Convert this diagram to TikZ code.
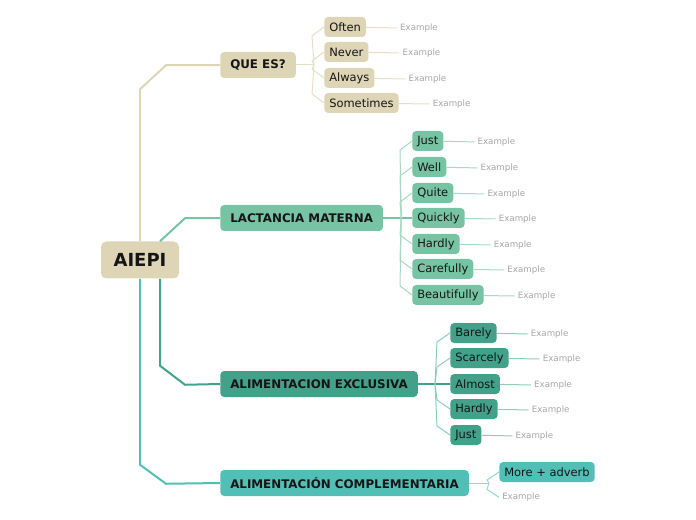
\documentclass[tikz,border=0pt]{standalone}
\usepackage{fontspec}
\setmainfont{DejaVu Sans}
\usetikzlibrary{positioning,calc}
\definecolor{sand}{HTML}{DDD5B5}
\definecolor{sandln}{HTML}{E6DFC8}
\definecolor{mint}{HTML}{76C4A4}
\definecolor{mintln}{HTML}{A6DAC4}
\definecolor{jade}{HTML}{43A18A}
\definecolor{jadeln}{HTML}{8ECDBE}
\definecolor{lagoon}{HTML}{52BFB7}
\definecolor{lagoonln}{HTML}{97D9D3}
\definecolor{exgray}{HTML}{A5A5A5}
\definecolor{ink}{HTML}{151515}

\begin{document}
\begin{tikzpicture}[
  x=0.75pt, y=-0.75pt,
  root/.style   = {fill=sand, rounded corners=4pt, text=ink,
                   minimum width=58.5pt, minimum height=27.75pt,
                   font=\fontsize{13.5}{15}\selectfont\bfseries},
  topic/.style  = {anchor=west, rounded corners=3pt, text=ink,
                   minimum height=19.5pt, inner xsep=7.5pt,
                   font=\fontsize{8.9}{10}\selectfont\bfseries},
  leaf/.style   = {anchor=west, rounded corners=3pt, text=ink,
                   minimum height=15pt, inner xsep=3.75pt,
                   font=\fontsize{8.6}{10}\selectfont},
  ex/.style     = {text=exgray, inner xsep=2.25pt, yshift=-1pt,
                   font=\fontsize{6.5}{8}\selectfont},
  trunk/.style  = {line width=1.5pt},
  twig/.style   = {line width=0.75pt},
]
\useasboundingbox (0,0) rectangle (696,520);

% centre and main topics
\node[root] (aiepi) at (140,260) {AIEPI};
\node[topic, fill=sand]   (quees) at (220,65)  {QUE ES?};
\node[topic, fill=mint]   (lact)  at (220,218) {LACTANCIA MATERNA};
\node[topic, fill=jade]   (excl)  at (220,384) {ALIMENTACION EXCLUSIVA};
\node[topic, fill=lagoon] (comp)  at (220,483) {ALIMENTACIÓN COMPLEMENTARIA};

\draw[trunk, sand] (aiepi.north) -- ++(0,-152) -- ++(26,-24) -- (quees.west);
\draw[trunk, mint] ([xshift=15pt]aiepi.north) -- ++(25,-23) -- (lact.west);
\draw[trunk, jade] ([xshift=15pt]aiepi.south) -- ++(0,87) -- ++(25,19) -- (excl.west);
\draw[trunk, lagoon] (aiepi.south) -- ++(0,186) -- ++(26,19) -- (comp.west);

% QUE ES?
\node[leaf, fill=sand] (qOften)     at (324,27)  {Often};
\node[leaf, fill=sand] (qNever)     at (324,52)  {Never};
\node[leaf, fill=sand] (qAlways)    at (324,78)  {Always};
\node[leaf, fill=sand] (qSometimes) at (324,103) {Sometimes};
\node[ex, right=23pt of qOften]     (qOftenEx)     {Example};
\node[ex, right=23pt of qNever]     (qNeverEx)     {Example};
\node[ex, right=23pt of qAlways]    (qAlwaysEx)    {Example};
\node[ex, right=23pt of qSometimes] (qSometimesEx) {Example};
\coordinate (qb) at ($(quees.east)+(18,0)$);
\begin{scope}[twig, sandln]
  \draw (quees) -- (qb);
  \draw (qb) -- ($(qOften.west)+(-12,9)$) -- (qOften.west);
  \draw (qb) -- ($(qNever.west)+(-12,9)$) -- (qNever.west);
  \draw (qb) -- ($(qAlways.west)+(-12,-9)$) -- (qAlways.west);
  \draw (qb) -- ($(qSometimes.west)+(-12,-9)$) -- (qSometimes.west);
  \draw (qOften) -- (qOftenEx);
  \draw (qNever) -- (qNeverEx);
  \draw (qAlways) -- (qAlwaysEx);
  \draw (qSometimes) -- (qSometimesEx);
\end{scope}

% LACTANCIA MATERNA
\node[leaf, fill=mint] (lJust)        at (412,141) {Just};
\node[leaf, fill=mint] (lWell)        at (412,167) {Well};
\node[leaf, fill=mint] (lQuite)       at (412,193) {Quite};
\node[leaf, fill=mint] (lQuickly)     at (412,218) {Quickly};
\node[leaf, fill=mint] (lHardly)      at (412,244) {Hardly};
\node[leaf, fill=mint] (lCarefully)   at (412,269) {Carefully};
\node[leaf, fill=mint] (lBeautifully) at (412,295) {Beautifully};
\node[ex, right=23pt of lJust]        (lJustEx)        {Example};
\node[ex, right=23pt of lWell]        (lWellEx)        {Example};
\node[ex, right=23pt of lQuite]       (lQuiteEx)       {Example};
\node[ex, right=23pt of lQuickly]     (lQuicklyEx)     {Example};
\node[ex, right=23pt of lHardly]      (lHardlyEx)      {Example};
\node[ex, right=23pt of lCarefully]   (lCarefullyEx)   {Example};
\node[ex, right=23pt of lBeautifully] (lBeautifullyEx) {Example};
\coordinate (lb) at ($(lact.east)+(18,0)$);
\begin{scope}[twig, mintln]
  \draw[mint, line width=1pt] (lact) -- (lQuickly);
  \draw (lb) -- ($(lJust.west)+(-12,9)$) -- (lJust.west);
  \draw (lb) -- ($(lWell.west)+(-12,9)$) -- (lWell.west);
  \draw (lb) -- ($(lQuite.west)+(-12,9)$) -- (lQuite.west);
  \draw (lb) -- ($(lHardly.west)+(-12,-9)$) -- (lHardly.west);
  \draw (lb) -- ($(lCarefully.west)+(-12,-9)$) -- (lCarefully.west);
  \draw (lb) -- ($(lBeautifully.west)+(-12,-9)$) -- (lBeautifully.west);
  \draw (lJust) -- (lJustEx);
  \draw (lWell) -- (lWellEx);
  \draw (lQuite) -- (lQuiteEx);
  \draw (lQuickly) -- (lQuicklyEx);
  \draw (lHardly) -- (lHardlyEx);
  \draw (lCarefully) -- (lCarefullyEx);
  \draw (lBeautifully) -- (lBeautifullyEx);
\end{scope}

% ALIMENTACION EXCLUSIVA
\node[leaf, fill=jade] (eBarely)   at (450,333) {Barely};
\node[leaf, fill=jade] (eScarcely) at (450,358) {Scarcely};
\node[leaf, fill=jade] (eAlmost)   at (450,384) {Almost};
\node[leaf, fill=jade] (eHardly)   at (450,409) {Hardly};
\node[leaf, fill=jade] (eJust)     at (450,435) {Just};
\node[ex, right=23pt of eBarely]   (eBarelyEx)   {Example};
\node[ex, right=23pt of eScarcely] (eScarcelyEx) {Example};
\node[ex, right=23pt of eAlmost]   (eAlmostEx)   {Example};
\node[ex, right=23pt of eHardly]   (eHardlyEx)   {Example};
\node[ex, right=23pt of eJust]     (eJustEx)     {Example};
\coordinate (eb) at ($(excl.east)+(17,0)$);
\begin{scope}[twig, jadeln]
  \draw[jade, line width=1pt] (excl) -- (eAlmost);
  \draw (eb) -- ($(eBarely.west)+(-13,9)$) -- (eBarely.west);
  \draw (eb) -- ($(eScarcely.west)+(-13,9)$) -- (eScarcely.west);
  \draw (eb) -- ($(eHardly.west)+(-13,-9)$) -- (eHardly.west);
  \draw (eb) -- ($(eJust.west)+(-13,-9)$) -- (eJust.west);
  \draw (eBarely) -- (eBarelyEx);
  \draw (eScarcely) -- (eScarcelyEx);
  \draw (eAlmost) -- (eAlmostEx);
  \draw (eHardly) -- (eHardlyEx);
  \draw (eJust) -- (eJustEx);
\end{scope}

% ALIMENTACIÓN COMPLEMENTARIA
\node[leaf, fill=lagoon] (cMore) at (499,472) {More + adverb};
\node[ex, anchor=west]   (cEx)   at (499,496) {Example};
\coordinate (cb) at ($(comp.east)+(20,0)$);
\begin{scope}[twig, lagoonln]
  \draw (comp) -- (cb);
  \draw (cb) -- ($(cMore.west)+(-12,8)$) -- (cMore.west);
  \draw (cb) -- ($(cEx.west)+(-12,-8)$) -- (cEx.west);
\end{scope}
\end{tikzpicture}
\end{document}
